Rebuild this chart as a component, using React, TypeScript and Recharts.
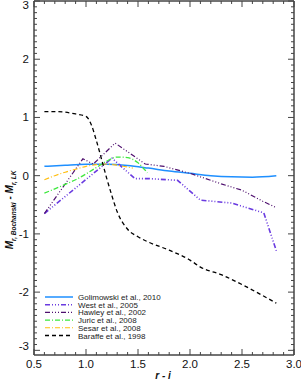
import React from 'react';
import { LineChart, Line, XAxis, YAxis, Legend } from 'recharts';

// r - i colour vs. M_r difference, one small list per relation
const golimowski = [
  { ri: 0.6, d: 0.16 }, { ri: 0.8, d: 0.18 }, { ri: 1.0, d: 0.195 }, { ri: 1.2, d: 0.195 },
  { ri: 1.4, d: 0.175 }, { ri: 1.6, d: 0.13 }, { ri: 1.8, d: 0.08 }, { ri: 2.0, d: 0.04 },
  { ri: 2.2, d: 0.0 }, { ri: 2.4, d: -0.02 }, { ri: 2.6, d: -0.025 }, { ri: 2.83, d: 0.0 },
];
const west = [
  { ri: 0.6, d: -0.65 }, { ri: 1.25, d: 0.3 }, { ri: 1.47, d: -0.05 }, { ri: 1.6, d: -0.05 },
  { ri: 1.88, d: -0.08 }, { ri: 2.1, d: -0.42 }, { ri: 2.4, d: -0.47 }, { ri: 2.71, d: -0.64 },
  { ri: 2.83, d: -1.29 },
];
const hawley = [
  { ri: 0.6, d: -0.65 }, { ri: 0.97, d: 0.29 }, { ri: 1.07, d: 0.2 }, { ri: 1.28, d: 0.56 },
  { ri: 1.57, d: 0.2 }, { ri: 1.75, d: 0.16 }, { ri: 2.0, d: 0.04 }, { ri: 2.3, d: -0.14 },
  { ri: 2.5, d: -0.25 }, { ri: 2.7, d: -0.44 }, { ri: 2.83, d: -0.55 },
];
const juric = [
  { ri: 0.6, d: -0.3 }, { ri: 0.8, d: -0.15 }, { ri: 0.9, d: -0.07 }, { ri: 1.0, d: 0.03 },
  { ri: 1.1, d: 0.14 }, { ri: 1.2, d: 0.25 }, { ri: 1.3, d: 0.32 }, { ri: 1.4, d: 0.31 },
  { ri: 1.5, d: 0.22 }, { ri: 1.59, d: 0.05 },
];
const sesar = [
  { ri: 0.6, d: -0.07 }, { ri: 0.7, d: 0.0 }, { ri: 0.8, d: 0.06 }, { ri: 0.9, d: 0.11 },
  { ri: 1.0, d: 0.16 }, { ri: 1.1, d: 0.19 }, { ri: 1.2, d: 0.2 }, { ri: 1.3, d: 0.18 },
  { ri: 1.45, d: 0.13 },
];
const baraffe = [
  { ri: 0.6, d: 1.1 }, { ri: 0.7, d: 1.1 }, { ri: 0.8, d: 1.09 }, { ri: 0.9, d: 1.06 },
  { ri: 1.0, d: 1.02 }, { ri: 1.05, d: 0.88 }, { ri: 1.1, d: 0.6 }, { ri: 1.15, d: 0.28 },
  { ri: 1.2, d: -0.05 }, { ri: 1.25, d: -0.35 }, { ri: 1.3, d: -0.62 }, { ri: 1.4, d: -0.92 },
  { ri: 1.5, d: -1.05 }, { ri: 1.6, d: -1.14 }, { ri: 1.8, d: -1.28 }, { ri: 2.0, d: -1.45 },
  { ri: 2.1, d: -1.57 }, { ri: 2.3, d: -1.7 }, { ri: 2.5, d: -1.87 }, { ri: 2.7, d: -2.06 },
  { ri: 2.83, d: -2.19 },
];

const xTicks = Array.from({ length: 26 }, (_, i) => +(0.5 + i * 0.1).toFixed(1));
const yTicks = Array.from({ length: 61 }, (_, i) => +(-3 + i * 0.1).toFixed(1));

const FONT = '"Liberation Sans", Arial, Helvetica, sans-serif';
const AXIS = '#444';

const series = [
  { name: 'Golimowski et al., 2010', data: golimowski, color: '#1e8fff', dash: undefined, width: 1.5, type: 'monotone' },
  { name: 'West et al., 2005', data: west, color: '#6a3be0', dash: '5 2 1 2 1 2 1 2', width: 1.6, type: 'linear' },
  { name: 'Hawley et al., 2002', data: hawley, color: '#4e0f6e', dash: '5 2 1 2 1 2 1 2', width: 1.2, type: 'linear' },
  { name: 'Juric et al., 2008', data: juric, color: '#3ee83e', dash: '5 2 1 2', width: 1.3, type: 'monotone' },
  { name: 'Sesar et al., 2008', data: sesar, color: '#ffbe10', dash: '5 2 1 2', width: 1.1, type: 'monotone' },
  { name: 'Baraffe et al., 1998', data: baraffe, color: '#000000', dash: '4 3', width: 1.3, type: 'monotone' },
];

const isMajorX = (v: number) => Math.abs(v * 2 - Math.round(v * 2)) < 1e-6;
const isMajorY = (v: number) => Math.abs(v - Math.round(v)) < 1e-6;

const XTick = (props: any) => {
  const { x, y, payload, side } = props;
  const major = isMajorX(payload.value);
  const len = major ? 6 : 3;
  const dir = side === 'bottom' ? -1 : 1;
  return (
    <g>
      <line x1={x} x2={x} y1={y} y2={y + dir * len} stroke={AXIS} strokeWidth={1} />
      {side === 'bottom' && major && (
        <text x={x} y={y + 13} textAnchor="middle" fontSize={11.5} fontFamily={FONT} fill="#111">
          {payload.value.toFixed(1)}
        </text>
      )}
    </g>
  );
};

const YTick = (props: any) => {
  const { x, y, payload, side } = props;
  const major = isMajorY(payload.value);
  const len = major ? 6 : 3;
  const dir = side === 'left' ? 1 : -1;
  const v = Math.round(payload.value);
  // keep the top label inside the page and lift the bottom one off the x axis
  const ty = v === 3 ? y + 8 : v === -3 ? y : y + 4;
  return (
    <g>
      <line x1={x} x2={x + dir * len} y1={y} y2={y} stroke={AXIS} strokeWidth={1} />
      {side === 'left' && major && (
        <text x={x - 5} y={ty} textAnchor="end" fontSize={11.5} fontFamily={FONT} fill="#111">
          {v}
        </text>
      )}
    </g>
  );
};

const YLabel = () => (
  <text
    transform="rotate(-90)"
    x={-210}
    y={13}
    textAnchor="middle"
    fontFamily={FONT}
    fontStyle="italic"
    fontWeight="bold"
    fontSize={10}
    fill="#111"
  >
    <tspan>M</tspan>
    <tspan fontSize={6.5} dy={2.5}>r, Bochanski</tspan>
    <tspan dy={-2.5}> - M</tspan>
    <tspan fontSize={6.5} dy={2.5}>r, LK</tspan>
  </text>
);

const XLabel = () => (
  <text x={163} y={379} textAnchor="middle" fontFamily={FONT} fontStyle="italic" fontWeight="bold" fontSize={10} fill="#111">
    r - i
  </text>
);

const LegendBox = () => (
  <svg width={140} height={50} style={{ display: 'block' }}>
    {series.map((s, i) => {
      const y = 5 + i * 7.7;
      return (
        <g key={s.name}>
          <line x1={5} x2={33} y1={y} y2={y} stroke={s.color} strokeWidth={s.width} strokeDasharray={s.dash} />
          <text x={38} y={y + 3} fontSize={8} fontFamily={FONT} fill="#222">
            {s.name}
          </text>
        </g>
      );
    })}
  </svg>
);

export default function App() {
  return (
    <div style={{ position: 'absolute', left: 0, top: 0, background: '#fff' }}>
      <LineChart width={301} height={380} margin={{ top: 0, right: 0, bottom: 0, left: 0 }}>
        <XAxis
          xAxisId="b"
          type="number"
          dataKey="ri"
          orientation="bottom"
          domain={[0.5, 3]}
          ticks={xTicks}
          interval={0}
          allowDataOverflow
          height={25}
          tickSize={0}
          tickMargin={0}
          tickLine={false}
          axisLine={{ stroke: AXIS, strokeWidth: 1.5 }}
          tick={<XTick side="bottom" />}
          label={<XLabel />}
        />
        <XAxis
          xAxisId="t"
          type="number"
          dataKey="ri"
          orientation="top"
          domain={[0.5, 3]}
          ticks={xTicks}
          interval={0}
          allowDataOverflow
          height={1}
          tickSize={0}
          tickMargin={0}
          tickLine={false}
          axisLine={{ stroke: AXIS, strokeWidth: 1.5 }}
          tick={<XTick side="top" />}
        />
        <YAxis
          yAxisId="l"
          type="number"
          orientation="left"
          domain={[-3.08, 3]}
          ticks={yTicks}
          interval={0}
          allowDataOverflow
          width={34}
          tickSize={0}
          tickMargin={0}
          tickLine={false}
          axisLine={{ stroke: AXIS, strokeWidth: 1.5 }}
          tick={<YTick side="left" />}
          label={<YLabel />}
        />
        <YAxis
          yAxisId="r"
          type="number"
          orientation="right"
          domain={[-3.08, 3]}
          ticks={yTicks}
          interval={0}
          allowDataOverflow
          width={7}
          tickSize={0}
          tickMargin={0}
          tickLine={false}
          axisLine={{ stroke: AXIS, strokeWidth: 1.5 }}
          tick={<YTick side="right" />}
        />
        {series.map((s) => (
          <Line
            key={s.name}
            xAxisId="b"
            yAxisId="l"
            data={s.data}
            dataKey="d"
            name={s.name}
            type={s.type as any}
            stroke={s.color}
            strokeWidth={s.width}
            strokeDasharray={s.dash}
            dot={false}
            isAnimationActive={false}
          />
        ))}
        <Legend
          layout="vertical"
          align="center"
          verticalAlign="middle"
          content={() => <LegendBox />}
          wrapperStyle={{ left: 40, top: 292, width: 140, height: 50 }}
        />
      </LineChart>
    </div>
  );
}
